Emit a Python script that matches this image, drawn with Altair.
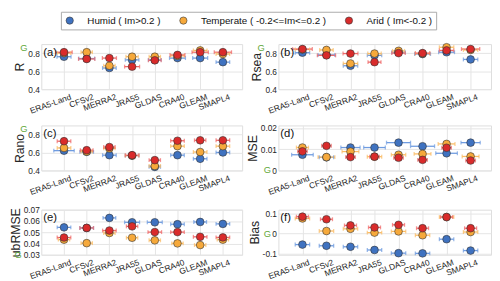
import altair as alt
import pandas as pd

products = ["ERA5-Land", "CFSv2", "MERRA2", "JRA55", "GLDAS", "CRA40", "GLEAM", "SMAPL4"]
climates = ["Humid ( Im>0.2 )", "Temperate ( -0.2<=Im<=0.2 )", "Arid ( Im<-0.2 )"]

# metric values: humid, temperate, arid
R_h = [0.76, 0.74, 0.635, 0.725, 0.725, 0.745, 0.745, 0.70]
R_t = [0.80, 0.81, 0.66, 0.76, 0.76, 0.77, 0.83, 0.79]
R_a = [0.81, 0.735, 0.745, 0.65, 0.72, 0.78, 0.81, 0.81]

Rsea_h = [0.805, 0.78, 0.66, 0.775, 0.81, 0.79, 0.81, 0.73]
Rsea_t = [0.84, 0.835, 0.685, 0.795, 0.825, 0.795, 0.865, 0.835]
Rsea_a = [0.845, 0.775, 0.795, 0.70, 0.80, 0.80, 0.83, 0.845]

Rano_h = [0.62, 0.607, 0.57, 0.565, 0.44, 0.57, 0.53, 0.60]
Rano_t = [0.65, 0.61, 0.645, 0.565, 0.45, 0.67, 0.605, 0.67]
Rano_a = [0.725, 0.625, 0.66, 0.57, 0.515, 0.73, 0.735, 0.735]

MSE_h = [0.0074, 0.0062, 0.0108, 0.0108, 0.0131, 0.0114, 0.0081, 0.0131]
MSE_t = [0.0108, 0.0063, 0.0089, 0.0065, 0.0074, 0.0078, 0.0125, 0.0066]
MSE_a = [0.0090, 0.0116, 0.0063, 0.0065, 0.0060, 0.0050, 0.0107, 0.0047]

ub_h = [0.0543, 0.0538, 0.0627, 0.0588, 0.0588, 0.0571, 0.0591, 0.0574]
ub_t = [0.0434, 0.0403, 0.0493, 0.0451, 0.0428, 0.0401, 0.0386, 0.0434]
ub_a = [0.0453, 0.0538, 0.0515, 0.0552, 0.0501, 0.0501, 0.0459, 0.0454]

Bias_h = [-0.055, -0.061, -0.066, -0.082, -0.098, -0.099, -0.028, -0.085]
Bias_t = [0.076, 0.013, 0.024, 0.005, 0.011, -0.008, 0.083, 0.008]
Bias_a = [0.085, 0.072, 0.041, 0.031, 0.044, 0.027, 0.083, 0.027]

# horizontal error-bar half widths (in category units)
R_eh = [0.31, 0.35, 0.30, 0.30, 0.28, 0.35, 0.33, 0.30]
R_et = [0.30, 0.25, 0.25, 0.27, 0.25, 0.30, 0.30, 0.30]
R_ea = [0.36, 0.36, 0.31, 0.33, 0.28, 0.33, 0.36, 0.38]
Rsea_eh = [0.30, 0.35, 0.30, 0.30, 0.28, 0.33, 0.33, 0.30]
Rsea_et = [0.30, 0.28, 0.30, 0.28, 0.25, 0.30, 0.30, 0.30]
Rsea_ea = [0.41, 0.38, 0.31, 0.27, 0.28, 0.30, 0.30, 0.38]
Rano_eh = [0.45, 0.30, 0.30, 0.30, 0.25, 0.30, 0.30, 0.30]
Rano_et = [0.30, 0.25, 0.25, 0.30, 0.25, 0.30, 0.30, 0.30]
Rano_ea = [0.30, 0.28, 0.25, 0.30, 0.25, 0.30, 0.25, 0.30]
MSE_eh = [0.45, 0.30, 0.40, 0.45, 0.50, 0.50, 0.45, 0.40]
MSE_et = [0.25, 0.35, 0.35, 0.30, 0.30, 0.35, 0.35, 0.35]
MSE_ea = [0.20, 0.20, 0.20, 0.20, 0.20, 0.20, 0.20, 0.20]
ub_eh = [0.30, 0.30, 0.28, 0.33, 0.33, 0.30, 0.28, 0.30]
ub_et = [0.25, 0.25, 0.25, 0.25, 0.25, 0.25, 0.25, 0.25]
ub_ea = [0.30, 0.30, 0.30, 0.25, 0.30, 0.30, 0.30, 0.30]
Bias_eh = [0.30, 0.30, 0.30, 0.30, 0.30, 0.30, 0.30, 0.30]
Bias_et = [0.30, 0.30, 0.30, 0.30, 0.30, 0.30, 0.30, 0.30]
Bias_ea = [0.25, 0.25, 0.25, 0.25, 0.25, 0.25, 0.25, 0.25]

point_colors = ["#3f72c0", "#f6a93b", "#d92b2b"]
bar_colors = ["#6f9ce0", "#fbbd66", "#f06868"]

panels = [
    dict(title="R", letter="(a)", vals=(R_h, R_t, R_a), errs=(R_eh, R_et, R_ea),
         domain=[0.4, 0.9], ticks=[0.4, 0.6, 0.8], g=0.86, gx=-14),
    dict(title="Rsea", letter="(b)", vals=(Rsea_h, Rsea_t, Rsea_a), errs=(Rsea_eh, Rsea_et, Rsea_ea),
         domain=[0.4, 0.9], ticks=[0.4, 0.6, 0.8], g=0.86, gx=-14),
    dict(title="Rano", letter="(c)", vals=(Rano_h, Rano_t, Rano_a), errs=(Rano_eh, Rano_et, Rano_ea),
         domain=[0.4, 0.9], ticks=[0.4, 0.6, 0.8], g=0.86, gx=-14),
    dict(title="MSE", letter="(d)", vals=(MSE_h, MSE_t, MSE_a), errs=(MSE_eh, MSE_et, MSE_ea),
         domain=[0, 0.0212], ticks=[0, 0.01, 0.02], g=0.0, gx=-7.5),
    dict(title="ubRMSE", letter="(e)", vals=(ub_h, ub_t, ub_a), errs=(ub_eh, ub_et, ub_ea),
         domain=[0.03, 0.07], ticks=[0.03, 0.04, 0.05, 0.06, 0.07], g=0.03, gx=-20),
    dict(title="Bias", letter="(f)", vals=(Bias_h, Bias_t, Bias_a), errs=(Bias_eh, Bias_et, Bias_ea),
         domain=[-0.106, 0.12], ticks=[-0.1, 0, 0.1], g=0.0, gx=-7.5),
]

FONT = "Liberation Sans"
WL, WR, H = 205, 217, 46

label_expr = "[" + ",".join("'%s'" % p for p in products) + "][datum.value - 1]"
x_scale = alt.Scale(domain=[0, 8.85], nice=False, zero=False)
x_axis = alt.Axis(values=list(range(1, 9)), labelExpr=label_expr, labelAngle=-20,
                  labelAlign="right", labelBaseline="top", labelFontSize=8.5, labelPadding=3,
                  labelOffset=5, labelOverlap=False, labelFlush=False, labelBound=False,
                  title=None, grid=True, gridColor="#e4e4e4", ticks=False, domain=False,
                  labelColor="#262626", labelFont=FONT)

legend = alt.Legend(orient="none", direction="horizontal", legendX=20, legendY=-33, title=None,
                    symbolType="circle", symbolSize=55, symbolStrokeColor="#333333",
                    symbolStrokeWidth=0.6, labelFontSize=10, labelFont=FONT, labelOffset=13,
                    columnPadding=18, padding=4, strokeColor="#aaaaaa", fillColor="white",
                    labelColor="#111111")

charts = []
for k, p in enumerate(panels):
    rows = []
    for ci, c in enumerate(climates):
        for i in range(8):
            v = p["vals"][ci][i]
            e = p["errs"][ci][i]
            rows.append({"pos": i + 1, "climate": c, "bar": c + " bar", "value": v,
                         "lo": i + 1 - e, "hi": i + 1 + e})
    df = pd.DataFrame(rows)
    y_scale = alt.Scale(domain=p["domain"], nice=False, zero=False)
    y_axis = alt.Axis(values=p["ticks"], labelExpr="'' + datum.value", title=p["title"],
                      titleFontSize=12.5, titleFontWeight="normal", titlePadding=1,
                      titleFont=FONT, titleColor="#262626", labelFontSize=8.5, labelFont=FONT,
                      labelPadding=2, labelColor="#262626", grid=True, gridColor="#e4e4e4",
                      ticks=False, domain=False)
    stroke_scale = alt.Scale(domain=[c + " bar" for c in climates], range=bar_colors)
    base = alt.Chart(df)
    rules = base.mark_rule(strokeWidth=1.3).encode(
        x=alt.X("lo:Q", scale=x_scale, axis=x_axis),
        x2="hi:Q",
        y=alt.Y("value:Q", scale=y_scale, axis=y_axis),
        stroke=alt.Stroke("bar:N", scale=stroke_scale, legend=None),
    )
    cap_lo = base.mark_point(shape="M0,-1L0,1", size=16, strokeWidth=1.3, filled=False).encode(
        x=alt.X("lo:Q", scale=x_scale, axis=x_axis),
        y=alt.Y("value:Q", scale=y_scale, axis=y_axis),
        stroke=alt.Stroke("bar:N", scale=stroke_scale, legend=None),
    )
    cap_hi = base.mark_point(shape="M0,-1L0,1", size=16, strokeWidth=1.3, filled=False).encode(
        x=alt.X("hi:Q", scale=x_scale, axis=x_axis),
        y=alt.Y("value:Q", scale=y_scale, axis=y_axis),
        stroke=alt.Stroke("bar:N", scale=stroke_scale, legend=None),
    )
    pts = base.mark_circle(size=62, stroke="#333333", strokeWidth=0.6, opacity=1).encode(
        x=alt.X("pos:Q", scale=x_scale, axis=x_axis),
        y=alt.Y("value:Q", scale=y_scale, axis=y_axis),
        fill=alt.Fill("climate:N", scale=alt.Scale(domain=climates, range=point_colors),
                      legend=legend),
    )
    letter = alt.Chart(pd.DataFrame({"t": [p["letter"]]})).mark_text(
        align="left", baseline="top", fontSize=11.5, font=FONT, color="#111111"
    ).encode(x=alt.value(2), y=alt.value(3), text="t:N")
    gmark = alt.Chart(pd.DataFrame({"t": ["G"], "gv": [p["g"]]})).mark_text(
        align="right", baseline="middle", fontSize=9.5, font=FONT, color="#5fa83a"
    ).encode(x=alt.value(p["gx"]), y=alt.Y("gv:Q", scale=y_scale, axis=y_axis), text="t:N")
    w = WL if k % 2 == 0 else WR
    layer = alt.layer(rules, cap_lo, cap_hi, pts, letter, gmark).properties(width=w, height=H)
    charts.append(layer)

chart = alt.concat(*charts, columns=2, spacing={"row": 8, "column": 2}).properties(
    padding={"left": 0, "top": 0, "right": 0, "bottom": 0}
).configure_view(stroke="#9a9a9a", strokeWidth=1).configure(background="white")

chart.save("out.html", embed_options={"renderer": "svg", "actions": False})
